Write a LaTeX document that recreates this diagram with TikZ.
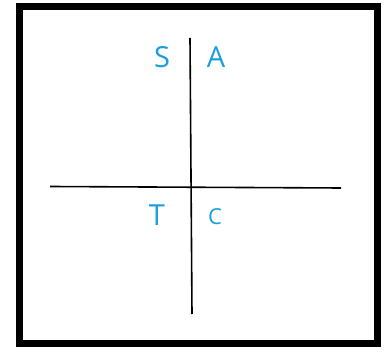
\documentclass[tikz,border=0pt]{standalone}
\usepackage{fontspec}
\setsansfont{Open Sans}
\usetikzlibrary{calc}
\definecolor{quadblue}{RGB}{28,158,222}

\begin{document}
\begin{tikzpicture}[x=1pt, y=-1pt,
    quad/.style={text=quadblue, font=\sffamily\fontsize{29}{29}\selectfont, inner sep=0pt},
    axis/.style={line width=1.6pt}]
    \useasboundingbox (0,0) rectangle (388,352);
    \fill[white] (0,0) rectangle (388,352);
    \draw[line width=7pt] (19,7) rectangle (377,344);

    \coordinate (ytop) at (190,38);
    \coordinate (ybot) at (192,314);
    \coordinate (xleft) at (50,186.5);
    \coordinate (xright) at (341,188);
    \draw[axis] (ytop) -- (ybot);
    \draw[axis] (xleft) -- (xright);

    \node[quad] (s) at (162,57) {S};
    \node[quad] (a) at (216,57) {A};
    \node[quad] (t) at (157,215) {T};
    \node[quad, font=\sffamily\fontsize{22}{22}\selectfont] (c) at (215,217) {C};
\end{tikzpicture}
\end{document}
